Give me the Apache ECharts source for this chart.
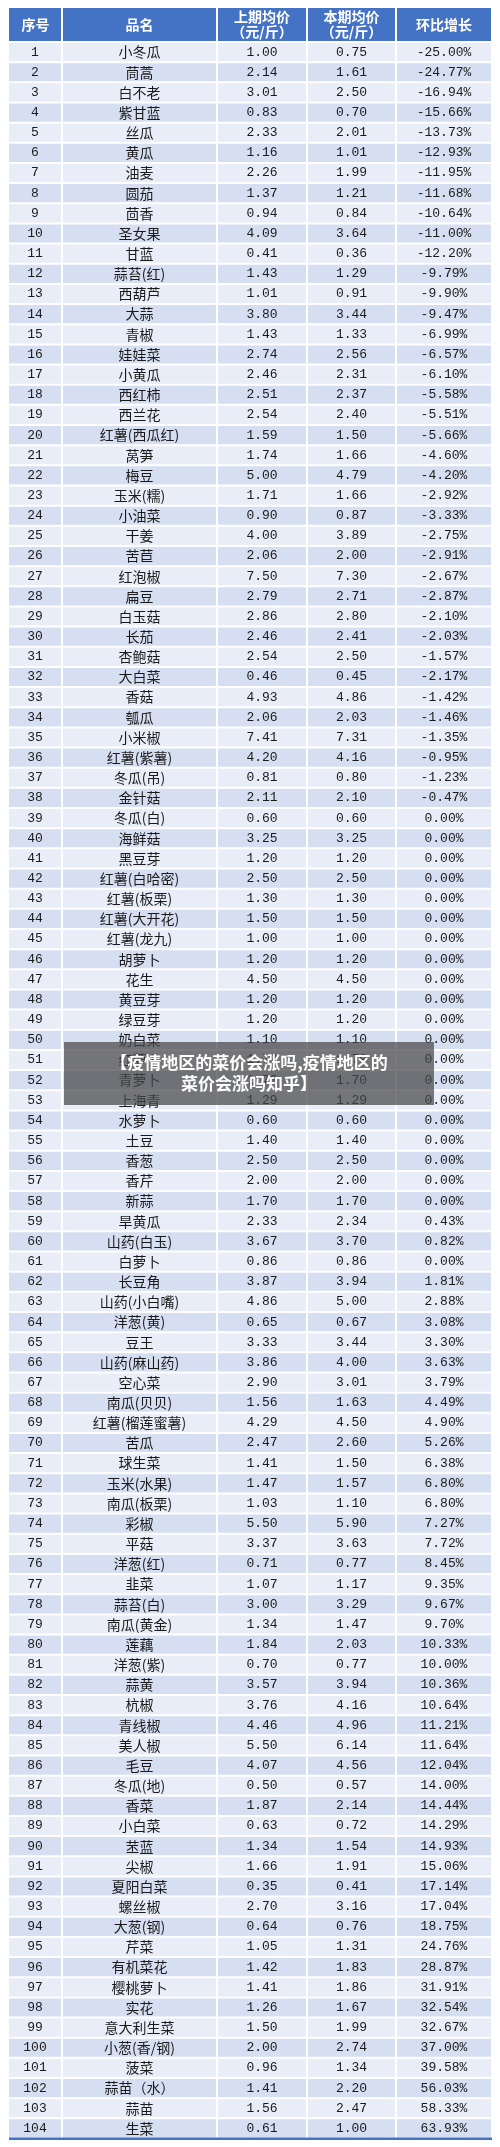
<!DOCTYPE html>
<html><head><meta charset="utf-8">
<script src="https://cdn.jsdelivr.net/npm/echarts@6/dist/echarts.min.js"></script>
<style>html,body{margin:0;padding:0;background:#fff}#c{width:500px;height:2147px}</style>
</head><body><div id="c"></div>
<script>
const names = ["小冬瓜","茼蒿","白不老","紫甘蓝","丝瓜","黄瓜","油麦","圆茄","茴香","圣女果","甘蓝","蒜苔(红)","西葫芦","大蒜","青椒","娃娃菜","小黄瓜","西红柿","西兰花","红薯(西瓜红)","莴笋","梅豆","玉米(糯)","小油菜","干姜","苦苣","红泡椒","扁豆","白玉菇","长茄","杏鲍菇","大白菜","香菇","瓠瓜","小米椒","红薯(紫薯)","冬瓜(吊)","金针菇","冬瓜(白)","海鲜菇","黑豆芽","红薯(白哈密)","红薯(板栗)","红薯(大开花)","红薯(龙九)","胡萝卜","花生","黄豆芽","绿豆芽","奶白菜","红萝卜","青萝卜","上海青","水萝卜","土豆","香葱","香芹","新蒜","旱黄瓜","山药(白玉)","白萝卜","长豆角","山药(小白嘴)","洋葱(黄)","豆王","山药(麻山药)","空心菜","南瓜(贝贝)","红薯(榴莲蜜薯)","苦瓜","球生菜","玉米(水果)","南瓜(板栗)","彩椒","平菇","洋葱(红)","韭菜","蒜苔(白)","南瓜(黄金)","莲藕","洋葱(紫)","蒜黄","杭椒","青线椒","美人椒","毛豆","冬瓜(地)","香菜","小白菜","苤蓝","尖椒","夏阳白菜","螺丝椒","大葱(钢)","芹菜","有机菜花","樱桃萝卜","实花","意大利生菜","小葱(香/钢)","菠菜","蒜苗（水）","蒜苗","生菜"];
const prevPrice = [1.00,2.14,3.01,0.83,2.33,1.16,2.26,1.37,0.94,4.09,0.41,1.43,1.01,3.80,1.43,2.74,2.46,2.51,2.54,1.59,1.74,5.00,1.71,0.90,4.00,2.06,7.50,2.79,2.86,2.46,2.54,0.46,4.93,2.06,7.41,4.20,0.81,2.11,0.60,3.25,1.20,2.50,1.30,1.50,1.00,1.20,4.50,1.20,1.20,1.10,1.79,1.70,1.29,0.60,1.40,2.50,2.00,1.70,2.33,3.67,0.86,3.87,4.86,0.65,3.33,3.86,2.90,1.56,4.29,2.47,1.41,1.47,1.03,5.50,3.37,0.71,1.07,3.00,1.34,1.84,0.70,3.57,3.76,4.46,5.50,4.07,0.50,1.87,0.63,1.34,1.66,0.35,2.70,0.64,1.05,1.42,1.41,1.26,1.50,2.00,0.96,1.41,1.56,0.61];
const currPrice = [0.75,1.61,2.50,0.70,2.01,1.01,1.99,1.21,0.84,3.64,0.36,1.29,0.91,3.44,1.33,2.56,2.31,2.37,2.40,1.50,1.66,4.79,1.66,0.87,3.89,2.00,7.30,2.71,2.80,2.41,2.50,0.45,4.86,2.03,7.31,4.16,0.80,2.10,0.60,3.25,1.20,2.50,1.30,1.50,1.00,1.20,4.50,1.20,1.20,1.10,1.79,1.70,1.29,0.60,1.40,2.50,2.00,1.70,2.34,3.70,0.86,3.94,5.00,0.67,3.44,4.00,3.01,1.63,4.50,2.60,1.50,1.57,1.10,5.90,3.63,0.77,1.17,3.29,1.47,2.03,0.77,3.94,4.16,4.96,6.14,4.56,0.57,2.14,0.72,1.54,1.91,0.41,3.16,0.76,1.31,1.83,1.86,1.67,1.99,2.74,1.34,2.20,2.47,1.00];
const growth = [-25.00,-24.77,-16.94,-15.66,-13.73,-12.93,-11.95,-11.68,-10.64,-11.00,-12.20,-9.79,-9.90,-9.47,-6.99,-6.57,-6.10,-5.58,-5.51,-5.66,-4.60,-4.20,-2.92,-3.33,-2.75,-2.91,-2.67,-2.87,-2.10,-2.03,-1.57,-2.17,-1.42,-1.46,-1.35,-0.95,-1.23,-0.47,0,0,0,0,0,0,0,0,0,0,0,0,0,0,0,0,0,0,0,0,0.43,0.82,0.00,1.81,2.88,3.08,3.30,3.63,3.79,4.49,4.90,5.26,6.38,6.80,6.80,7.27,7.72,8.45,9.35,9.67,9.70,10.33,10.00,10.36,10.64,11.21,11.64,12.04,14.00,14.44,14.29,14.93,15.06,17.14,17.04,18.75,24.76,28.87,31.91,32.54,32.67,37.00,39.58,56.03,58.33,63.93];
const headers = ["序号","品名","上期均价\n（元/斤）","本期均价\n（元/斤）","环比增长"];
const titleText = "【疫情地区的菜价会涨吗,疫情地区的\n菜价会涨吗知乎】";

const colEdges = [0,53,208,298,387,483]; // relative to grid left
const GL = 9, GT = 42, GW = 483;
const rows = names.map((n,i)=>i);
const numFont = '13px "Liberation Mono","Noto Sans CJK SC",monospace';
const cjkFont = '14px "Noto Sans CJK SC",sans-serif';

const chart = echarts.init(document.getElementById('c'), null, {renderer:'canvas'});
const headerEls = headers.map((h,j)=>({
  type:'group',
  children:[
    {type:'rect', shape:{x:GL+colEdges[j]+(j?1:0), y:8, width:colEdges[j+1]-colEdges[j]-(j?1:0)-1, height:33}, style:{fill:'#4472C4'}},
    {type:'text', style:{text:h, x:GL+(colEdges[j]+colEdges[j+1])/2, y:24.5, align:'center', verticalAlign:'middle', fill:'#fff', font:'bold 14px "Noto Sans CJK SC",sans-serif', lineHeight:15}}
  ]
}));
chart.setOption({
  animation:false,
  grid:{left:GL, top:GT, width:GW, bottom:8.5},
  xAxis:{type:'value', min:0, max:483, show:false},
  yAxis:{type:'category', inverse:true, data:rows.map(i=>String(i+1)), show:false},
  series:[{
    type:'custom',
    data: rows.map(i=>[i]),
    renderItem:(params, api)=>{
      const i = api.value(0);
      const c = api.coord([0,i]);
      const h = api.size([0,1])[1];
      const fill = i%2===0 ? '#E9EDF8' : '#D6DFF1';
      const g = growth[i];
      const txt = [String(i+1), names[i], prevPrice[i].toFixed(2), currPrice[i].toFixed(2), (g<0?'-':'')+Math.abs(g).toFixed(2)+'%'];
      const ch = [];
      for(let j=0;j<5;j++){
        const x0 = api.coord([colEdges[j],i])[0] + (j?1:0);
        const x1 = api.coord([colEdges[j+1],i])[0] - 1;
        ch.push({type:'rect', shape:{x:x0, y:c[1]-h/2+1, width:x1-x0, height:h-2}, style:{fill}});
        ch.push({type:'text', style:{text:txt[j], x:(x0+x1)/2, y:c[1], align:'center', verticalAlign:'middle', fill:'#1a1a1a', font: j===1?cjkFont:numFont}});
      }
      if(i===names.length-1){
        ch.push({type:'rect', shape:{x:GL, y:c[1]+h/2-1, width:GW, height:2.5}, style:{fill:'#4472C4'}});
      }
      return {type:'group', children:ch};
    }
  }],
  graphic: headerEls.concat([
    {type:'rect', shape:{x:64, y:1042, width:370, height:63}, style:{fill:'rgba(70,70,70,0.72)'}, z:100},
    {type:'text', style:{text:titleText, x:249, y:1073, align:'center', verticalAlign:'middle', fill:'#fff', font:'bold 17px "Noto Sans CJK SC",sans-serif', lineHeight:21}, z:101}
  ])
});
</script></body></html>
